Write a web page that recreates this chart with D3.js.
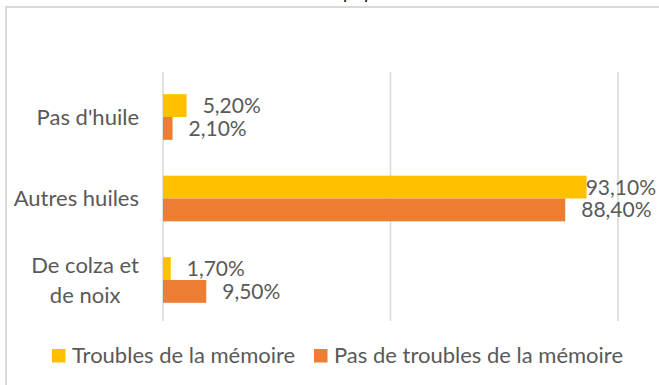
<!DOCTYPE html>
<html>
<head>
<meta charset="utf-8">
<script src="https://cdn.jsdelivr.net/npm/d3@7"></script>
<style>
  html, body { margin: 0; padding: 0; background: #fff; }
  svg { display: block; }
  text { font-family: Lato, "Open Sans", sans-serif; fill: #595959; }
</style>
</head>
<body>
<svg id="chart" width="659" height="385"></svg>
<script>
// Categories (top to bottom) and the two series, in percent
const categories = ["Pas d'huile", "Autres huiles", "De colza et\nde noix"];
const troublesMemoire = [5.2, 93.1, 1.7];
const pasTroublesMemoire = [2.1, 88.4, 9.5];
const seriesNames = ["Troubles de la mémoire", "Pas de troubles de la mémoire"];
const seriesColors = ["#FFC000", "#ED7D31"];
const gridTicks = [0, 50, 100];

const svg = d3.select("#chart");
const W = 659, H = 385;
const fontSize = 22;
const valueFontSize = 21;

// Chart frame (extends past the visible window on the right and bottom)
svg.append("rect")
  .attr("x", 6).attr("y", 7)
  .attr("width", W + 20).attr("height", H + 20)
  .attr("fill", "#fff")
  .attr("stroke", "#d9d9d9").attr("stroke-width", 2);

// Lower edge of the page title sitting above the frame
const title = svg.append("text")
  .attr("y", -1)
  .attr("font-style", "italic")
  .attr("font-size", 18)
  .style("fill", "#000");
title.append("tspan").attr("x", 344).text("p");
title.append("tspan").attr("x", 365).text("p");

const x = d3.scaleLinear().domain([0, 100]).range([163, 618]);
const y = d3.scaleBand().domain(categories).range([76.25, 320.75])
  .paddingInner(0.44).paddingOuter(0.22);
const ySub = d3.scaleBand().domain([0, 1]).range([0, y.bandwidth()]);

// Vertical gridlines
svg.append("g").selectAll("line").data(gridTicks).join("line")
  .attr("x1", d => x(d)).attr("x2", d => x(d))
  .attr("y1", 72).attr("y2", 321)
  .attr("stroke", "#d9d9d9").attr("stroke-width", 1.5);

const series = [troublesMemoire, pasTroublesMemoire];
const fmt = v => v.toFixed(2).replace(".", ",") + "%";

series.forEach((vals, si) => {
  const g = svg.append("g");
  g.selectAll("rect").data(vals).join("rect")
    .attr("x", x(0))
    .attr("y", (d, i) => y(categories[i]) + ySub(si))
    .attr("width", d => x(d) - x(0))
    .attr("height", ySub.bandwidth())
    .attr("fill", seriesColors[si]);

  g.selectAll("text").data(vals).join("text")
    .attr("font-size", valueFontSize)
    .attr("y", (d, i) => y(categories[i]) + ySub(si) + ySub.bandwidth() / 2)
    .attr("dy", "0.36em")
    .text(d => fmt(d))
    .each(function (d) {
      const w = this.getComputedTextLength();
      let px = x(d) + 16;
      if (px + w > 656) px = 656 - w;
      d3.select(this).attr("x", px);
    });
});

// Category labels: lines centred within a right-aligned block
categories.forEach(c => {
  const lines = c.split("\n");
  const cy = y(c) + y.bandwidth() / 2;
  const grp = svg.append("g");
  const texts = lines.map((ln, i) => grp.append("text")
    .attr("font-size", fontSize)
    .attr("text-anchor", "middle")
    .attr("y", cy + 7.5 + (i - (lines.length - 1) / 2) * 30)
    .text(ln));
  const maxW = d3.max(texts, t => t.node().getComputedTextLength());
  texts.forEach(t => t.attr("x", 139 - maxW / 2));
});

// Legend
const legendX = [52, 314];
seriesNames.forEach((name, i) => {
  svg.append("rect")
    .attr("x", legendX[i]).attr("y", 349)
    .attr("width", 13.5).attr("height", 13.5)
    .attr("fill", seriesColors[i]);
  svg.append("text")
    .attr("x", legendX[i] + 20).attr("y", 362.5)
    .attr("font-size", fontSize)
    .text(name);
});
</script>
</body>
</html>
